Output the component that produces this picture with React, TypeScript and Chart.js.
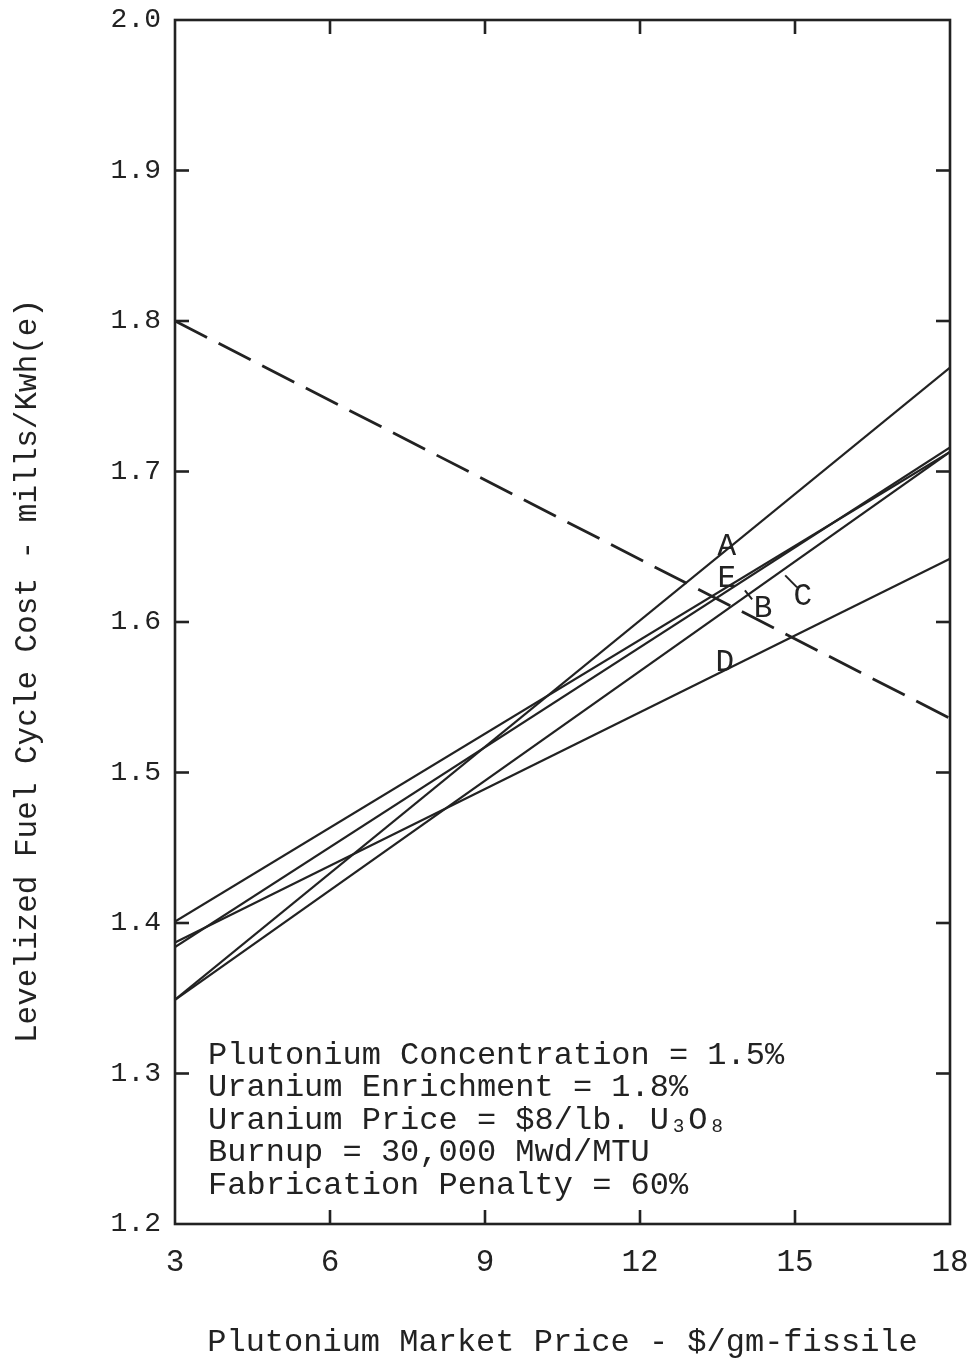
import React, { useEffect, useRef } from "react";
import { Chart, registerables } from "chart.js";

Chart.register(...registerables);

// ---- data ----
const xPrices = [3, 18];
const curveA = [1.349, 1.769];
const curveB = [1.384, 1.716];
const curveC = [1.349, 1.713];
const curveD = [1.387, 1.642];
const curveE = [1.401, 1.713];
const dashedCurve = [1.8, 1.536];

const xTicks = [3, 6, 9, 12, 15, 18];
const yTicks = [1.2, 1.3, 1.4, 1.5, 1.6, 1.7, 1.8, 1.9, 2.0];

const curveLabels = ["A", "E", "B", "C", "D"];
const labelX = [13.68, 13.68, 14.38, 15.15, 13.64];
const labelY = [1.65, 1.629, 1.609, 1.617, 1.573];

const leaderX1 = [14.03, 14.81];
const leaderY1 = [1.621, 1.631];
const leaderX2 = [14.17, 15.04];
const leaderY2 = [1.615, 1.623];

const noteLines = [
  "Plutonium Concentration = 1.5%",
  "Uranium Enrichment = 1.8%",
  "Uranium Price = $8/lb. U\u2083O\u2088",
  "Burnup = 30,000 Mwd/MTU",
  "Fabrication Penalty = 60%",
];
const noteX = 3.64;
const noteY = 1.312;

const xTitle = "Plutonium Market Price - $/gm-fissile";
const yTitle = "Levelized Fuel Cycle Cost - mills/Kwh(e)";

const INK = "#222222";
const MONO = "'Liberation Mono', 'DejaVu Sans Mono', monospace";

const toPoints = (ys: number[]) => xPrices.map((x, i) => ({ x, y: ys[i] }));

const overlay = {
  id: "overlay",
  afterDatasetsDraw(chart: any) {
    const { ctx, chartArea, scales } = chart;
    const { left, right, top, bottom } = chartArea;
    const xs = scales.x;
    const ys = scales.y;
    ctx.save();
    ctx.strokeStyle = INK;
    ctx.lineCap = "butt";
    ctx.lineWidth = 2.6;
    ctx.strokeRect(left, top, right - left, bottom - top);

    const seg = (x1: number, y1: number, x2: number, y2: number) => {
      ctx.beginPath();
      ctx.moveTo(x1, y1);
      ctx.lineTo(x2, y2);
      ctx.stroke();
    };
    const tl = 14;
    xTicks.slice(1, -1).forEach((v) => {
      const px = xs.getPixelForValue(v);
      seg(px, bottom, px, bottom - tl);
      seg(px, top, px, top + tl);
    });
    yTicks.slice(1, -1).forEach((v) => {
      const py = ys.getPixelForValue(v);
      seg(left, py, left + tl, py);
      seg(right, py, right - tl, py);
    });

    // curve labels
    ctx.fillStyle = INK;
    ctx.font = `31px ${MONO}`;
    ctx.textAlign = "center";
    ctx.textBaseline = "middle";
    curveLabels.forEach((t, i) => {
      ctx.fillText(t, xs.getPixelForValue(labelX[i]), ys.getPixelForValue(labelY[i]));
    });
    ctx.lineWidth = 2;
    leaderX1.forEach((_, i) => {
      seg(
        xs.getPixelForValue(leaderX1[i]),
        ys.getPixelForValue(leaderY1[i]),
        xs.getPixelForValue(leaderX2[i]),
        ys.getPixelForValue(leaderY2[i])
      );
    });

    // note block
    ctx.font = `32px ${MONO}`;
    ctx.textAlign = "left";
    const nx = xs.getPixelForValue(noteX);
    const ny = ys.getPixelForValue(noteY);
    noteLines.forEach((t, i) => ctx.fillText(t, nx, ny + i * 32.5));

    // y title
    ctx.save();
    ctx.font = `31px ${MONO}`;
    ctx.textAlign = "center";
    ctx.translate(28, (top + bottom) / 2 + 49);
    ctx.rotate(-Math.PI / 2);
    ctx.fillText(yTitle, 0, 0);
    ctx.restore();

    ctx.restore();
  },
};

export default function App() {
  const ref = useRef<HTMLCanvasElement | null>(null);
  useEffect(() => {
    if (!ref.current) return;
    const lineStyle = {
      borderColor: INK,
      borderWidth: 2.2,
      pointRadius: 0,
      fill: false,
      tension: 0,
    };
    const chart = new Chart(ref.current, {
      type: "line",
      data: {
        datasets: [
          { label: "A", data: toPoints(curveA), ...lineStyle },
          { label: "B", data: toPoints(curveB), ...lineStyle },
          { label: "C", data: toPoints(curveC), ...lineStyle },
          { label: "D", data: toPoints(curveD), ...lineStyle },
          { label: "E", data: toPoints(curveE), ...lineStyle },
          {
            label: "Dashed",
            data: toPoints(dashedCurve),
            ...lineStyle,
            borderWidth: 2.8,
            borderDash: [36, 13],
          },
        ],
      },
      options: {
        animation: false,
        responsive: true,
        maintainAspectRatio: false,
        layout: { padding: { left: 0, top: 20, right: 24, bottom: 0 } },
        plugins: { legend: { display: false }, tooltip: { enabled: false } },
        scales: {
          x: {
            type: "linear",
            min: 3,
            max: 18,
            afterFit: (s: any) => {
              s.height = 138;
              s.paddingLeft = 0;
              s.paddingRight = 0;
            },
            afterBuildTicks: (s: any) => {
              s.ticks = xTicks.map((v) => ({ value: v }));
            },
            grid: { display: false, drawTicks: false },
            border: { display: false },
            ticks: {
              padding: 20,
              color: INK,
              font: { family: MONO, size: 31 },
              maxRotation: 0,
              autoSkip: false,
            },
            title: {
              display: true,
              text: xTitle,
              color: INK,
              font: { family: MONO, size: 32, lineHeight: 1 },
              padding: { top: 0, bottom: 3 },
            },
          },
          y: {
            type: "linear",
            min: 1.2,
            max: 2.0,
            afterFit: (s: any) => {
              s.width = 175;
              s.paddingTop = 0;
              s.paddingBottom = 0;
            },
            afterBuildTicks: (s: any) => {
              s.ticks = yTicks.map((v) => ({ value: v }));
            },
            grid: { display: false, drawTicks: false },
            border: { display: false },
            ticks: {
              padding: 14,
              color: INK,
              font: { family: MONO, size: 28 },
              autoSkip: false,
              callback: (v: any) => Number(v).toFixed(1),
            },
          },
        },
      },
      plugins: [overlay],
    });
    return () => chart.destroy();
  }, []);
  return (
    <div
      style={{
        position: "fixed",
        left: 0,
        top: 0,
        width: 974,
        height: 1362,
        background: "#fff",
      }}
    >
      <canvas ref={ref} />
    </div>
  );
}
